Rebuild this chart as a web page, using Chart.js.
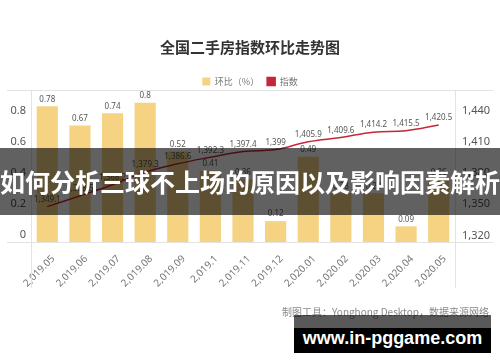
<!DOCTYPE html>
<html>
<head>
<meta charset="utf-8">
<script src="https://cdn.jsdelivr.net/npm/chart.js@4"></script>
<style>
  body { margin: 0; background: #fff; }
  #wrap { position: relative; width: 500px; height: 362px; overflow: hidden; }
  #banner {
    position: absolute; left: 0; top: 148px; width: 500px; height: 67px;
    background: rgba(0,0,0,0.62); color: #fff;
    font: bold 25px "Noto Sans CJK SC", sans-serif;
    line-height: 67px; text-align: center; white-space: nowrap;
  }
  #source {
    position: absolute; right: 11px; top: 304px;
    font: 10px "Noto Sans CJK SC", sans-serif; color: #8a8a8a; white-space: nowrap;
  }
  #mark-top { position: absolute; left: 294px; top: 315px; width: 197px; height: 13px; background: rgba(0,0,0,0.65); }
  #mark {
    position: absolute; left: 294px; top: 328px; width: 197px; height: 25px; background: #000;
    color: #fff; font: bold 18px "Liberation Sans", sans-serif; line-height: 20px;
    text-align: center; white-space: nowrap;
  }
</style>
</head>
<body>
<div id="wrap">
  <canvas id="grafico" width="500" height="362"></canvas>
  <div id="banner">如何分析三球不上场的原因以及影响因素解析</div>
  <div id="source">制图工具：Yonghong Desktop，数据来源网络</div>
  <div id="mark-top"></div>
  <div id="mark">www.in-pggame.com</div>
</div>
<script>
// dados
const meses = ['2,019.05', '2,019.06', '2,019.07', '2,019.08', '2,019.09', '2,019.1', '2,019.11',
               '2,019.12', '2,020.01', '2,020.02', '2,020.03', '2,020.04', '2,020.05'];
const huanbi = [0.78, 0.67, 0.74, 0.8, 0.52, 0.41, 0.36, 0.12, 0.49, 0.28, 0.28, 0.09, 0.36];
const zhishu = [1349.1, 1358.5, 1368.2, 1379.3, 1386.6, 1392.3, 1397.4, 1399, 1405.9, 1409.6, 1414.2, 1415.5, 1420.5];
const ticksEsq = [0, 0.2, 0.4, 0.6, 0.8];
const ticksDir = [1320, 1350, 1380, 1410, 1440];

Chart.defaults.font.family = '"Noto Sans", "Noto Sans CJK SC", sans-serif';

// legenda um pouco mais baixa (encolhe a altura reservada)
const legendaAjuste = {
  id: 'legendaAjuste',
  beforeInit(chart) {
    const fitOriginal = chart.legend.fit;
    chart.legend.fit = function () {
      fitOriginal.bind(chart.legend)();
      this.height -= 6;
    };
  }
};

// moldura cinza (linhas de cima, de baixo e laterais)
const moldura = {
  id: 'moldura',
  beforeDatasetsDraw(chart) {
    const { ctx, chartArea: a } = chart;
    ctx.save();
    ctx.strokeStyle = '#e3e3e3';
    ctx.lineWidth = 1;
    ctx.beginPath();
    ctx.moveTo(7, a.top + 0.5); ctx.lineTo(493, a.top + 0.5);
    ctx.moveTo(7, a.bottom + 0.5); ctx.lineTo(493, a.bottom + 0.5);
    ctx.moveTo(a.left + 0.5, a.top); ctx.lineTo(a.left + 0.5, a.bottom + 46);
    ctx.moveTo(a.right + 0.5, a.top); ctx.lineTo(a.right + 0.5, a.bottom + 46);
    ctx.stroke();
    ctx.restore();
  }
};

// rótulos de valor em cima das barras e dos pontos
const rotulos = {
  id: 'rotulos',
  afterDatasetsDraw(chart) {
    const ctx = chart.ctx;
    ctx.save();
    ctx.font = '8px "Noto Sans", sans-serif';
    ctx.fillStyle = '#555';
    ctx.textAlign = 'center';
    ctx.textBaseline = 'bottom';
    chart.data.datasets.forEach((ds, i) => {
      chart.getDatasetMeta(i).data.forEach((el, j) => {
        const v = ds.data[j];
        const txt = i === 0 ? String(v) : v.toLocaleString('en-US', { maximumFractionDigits: 1 });
        ctx.fillText(txt, el.x, el.y - 3);
      });
    });
    ctx.restore();
  }
};

new Chart(document.getElementById('grafico'), {
  data: {
    labels: meses,
    datasets: [{
      type: 'bar',
      label: '环比（%）',
      data: huanbi,
      yAxisID: 'yBar',
      backgroundColor: '#f5d383',
      borderWidth: 0,
      barPercentage: 0.65,
      categoryPercentage: 1,
      order: 2
    }, {
      type: 'line',
      label: '指数',
      data: zhishu,
      yAxisID: 'yLine',
      borderColor: '#c4263a',
      backgroundColor: '#c4263a',
      borderWidth: 1.5,
      pointRadius: 0,
      tension: 0.4,
      order: 1
    }]
  },
  options: {
    responsive: false,
    animation: false,
    layout: { padding: { left: 0, right: 0, top: 0, bottom: 72 } },
    plugins: {
      title: {
        display: true,
        text: '全国二手房指数环比走势图',
        color: '#333',
        font: { size: 15, weight: 'bold', family: '"Noto Sans CJK SC", sans-serif' },
        padding: { top: 38, bottom: 13 }
      },
      legend: {
        labels: {
          boxWidth: 8, boxHeight: 8, color: '#777',
          font: { size: 9, family: '"Noto Sans CJK SC", sans-serif' },
          padding: 8,
          sort: (a, b) => a.datasetIndex - b.datasetIndex
        }
      },
      tooltip: { enabled: false }
    },
    scales: {
      x: {
        grid: { display: false, tickLength: 0 },
        border: { display: false },
        ticks: { color: '#777', font: { size: 10 }, minRotation: 45, maxRotation: 45, autoSkip: false, padding: 11, labelOffset: 6 },
        afterFit: s => { s.height = 48; }
      },
      yEsq: {
        position: 'left',
        min: -0.045, max: 0.936,
        grid: { display: false, tickLength: 0 },
        border: { display: false },
        ticks: { color: '#555', font: { size: 11 }, padding: 5 },
        afterBuildTicks: s => { s.ticks = ticksEsq.map(v => ({ value: v })); },
        afterFit: s => { s.width = 31; }
      },
      yDir: {
        position: 'right',
        min: 1313.75, max: 1459.9,
        grid: { display: false, tickLength: 0 },
        border: { display: false },
        ticks: { color: '#555', font: { size: 11 }, padding: 7, callback: v => v.toLocaleString('en-US') },
        afterBuildTicks: s => { s.ticks = ticksDir.map(v => ({ value: v })); },
        afterFit: s => { s.width = 45; }
      },
      yBar: { display: false, min: 0, max: 0.874 },
      yLine: { display: false, min: 1318.2, max: 1451.1 }
    }
  },
  plugins: [legendaAjuste, moldura, rotulos]
});
</script>
</body>
</html>
